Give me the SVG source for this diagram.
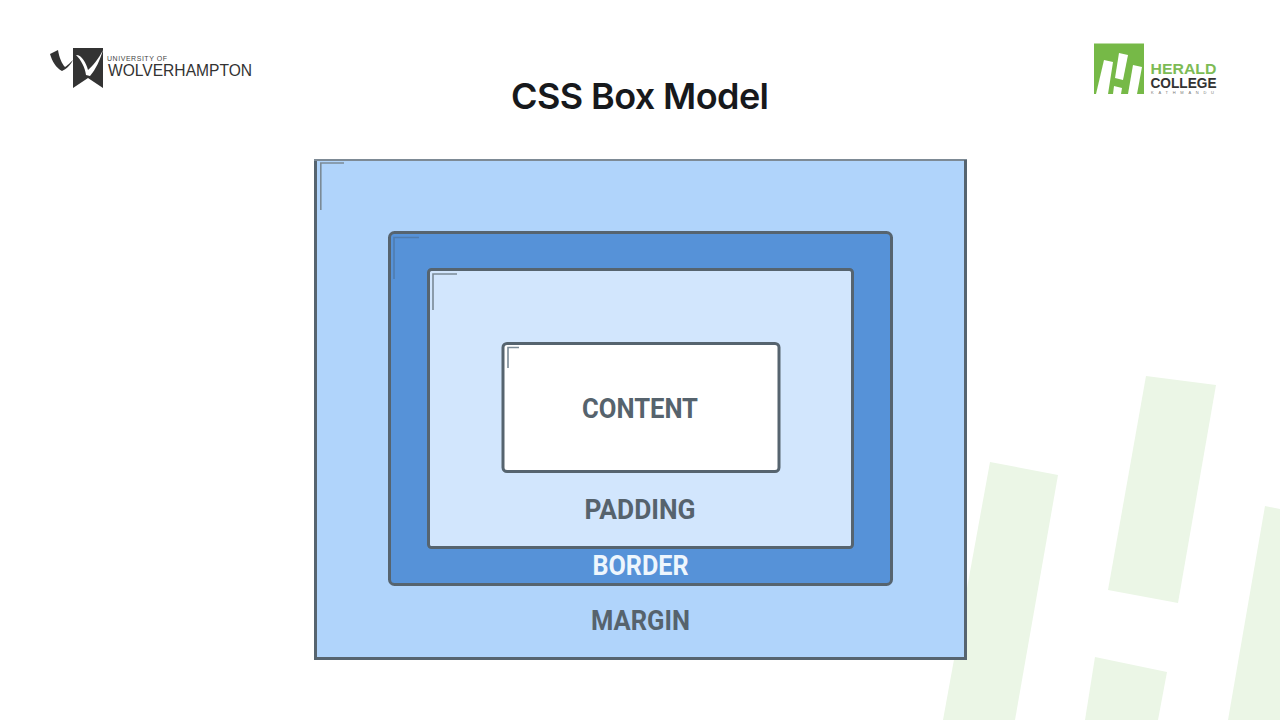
<svg xmlns="http://www.w3.org/2000/svg" width="1280" height="720" viewBox="0 0 1280 720">
<style>
.box{stroke:#56646f;stroke-width:3}
.tick{fill:none;stroke:#7b8a96;stroke-width:1.6}
.lbl{font-family:"Roboto","Liberation Sans",sans-serif;font-weight:700;font-size:28px;text-anchor:middle;fill:#56636d}
.bar{fill:#ebf6e6}
.logo{font-family:"Liberation Sans",sans-serif}
</style>
<rect width="1280" height="720" fill="#ffffff"/>
<g id="watermark">
<polygon class="bar" points="990,462 1058,475 1015,720 943,720"/>
<polygon class="bar" points="1146,376 1216,385 1178,603 1108,590"/>
<polygon class="bar" points="1095,657 1167,672 1158,720 1085,720"/>
<polygon class="bar" points="1265,506 1280,509 1280,720 1228,720"/>
</g>
<g id="logo-wolverhampton">
<path d="M50 54 L58 50 C59 57 62 64 65 67 C67 66 71 62 73 60 C71 64 67 69 62 71 C56 68 52 61 50 54Z" fill="#333"/>
<path d="M73 48 H103 V88 L88 78 L73 88Z" fill="#333"/>
<path d="M76 55 C82 55 86 63 88 70 C93 66 99 58 103 50 C100 60 96 69 90 76 L86 75 C85 67 81 60 76 55Z" fill="#fff"/>
<text class="logo" x="107" y="61" font-size="7" textLength="60" lengthAdjust="spacing" fill="#444">UNIVERSITY OF</text>
<text class="logo" x="108" y="75.500" font-size="17" textLength="144" lengthAdjust="spacingAndGlyphs" fill="#333">WOLVERHAMPTON</text>
</g>
<g id="logo-herald">
<rect x="1094" y="43.500" width="50" height="50.500" fill="#76b947"/>
<g fill="#fff">
<polygon points="1104,60 1113,62 1108,94 1096,94"/>
<polygon points="1119,53 1128,55 1123,80 1115,78"/>
<polygon points="1114,86 1122,88 1121,94 1113,94"/>
<polygon points="1133,65 1142,67 1137,94 1128,94"/>
</g>
<text class="logo" x="1150.500" y="74" font-weight="700" font-size="14" textLength="66" lengthAdjust="spacingAndGlyphs" fill="#7dbb55">HERALD</text>
<text class="logo" x="1150.500" y="87.500" font-weight="700" font-size="14" textLength="66" lengthAdjust="spacingAndGlyphs" fill="#333">COLLEGE</text>
<text class="logo" x="1151" y="94" font-size="4" textLength="63" lengthAdjust="spacing" fill="#777">KATHMANDU</text>
</g>
<text id="title" x="640" y="109" text-anchor="middle" font-family="Inter,Roboto,sans-serif" font-weight="600" font-size="36" textLength="258" lengthAdjust="spacing" fill="#17191c">CSS Box Model</text>
<g id="margin">
<rect x="315.500" y="160" width="650" height="498" rx="2" fill="#b0d4fb"/>
<path d="M315.500 658.500 V160" fill="none" stroke="#56646f" stroke-width="3"/>
<path d="M314 160 H967" fill="none" stroke="#7d8a95" stroke-width="2"/>
<path d="M965.500 160 V658.500 H314" fill="none" stroke="#56646f" stroke-width="3"/>
<path class="tick" d="M320.800 210 V163 H344"/>
<text class="lbl" x="640.500" y="630" textLength="99" lengthAdjust="spacingAndGlyphs">MARGIN</text>
</g>
<g id="border">
<rect class="box" x="389.500" y="232.500" width="502" height="352" rx="5" fill="#5692d8"/>
<path class="tick" style="stroke:#4f7cae" d="M394 279 V237.500 H419"/>
<text class="lbl" x="640.500" y="575" textLength="96" lengthAdjust="spacingAndGlyphs" style="fill:#eef6fd">BORDER</text>
</g>
<g id="padding">
<rect class="box" x="428.500" y="269.500" width="424" height="278" rx="3" fill="#d2e6fd"/>
<path class="tick" d="M433 310 V274 H457"/>
<text class="lbl" x="640" y="519" textLength="111" lengthAdjust="spacingAndGlyphs">PADDING</text>
</g>
<g id="content">
<rect class="box" x="503" y="343.500" width="276" height="128" rx="4" fill="#ffffff"/>
<path class="tick" d="M508 368 V347.500 H519"/>
<text class="lbl" x="640" y="418" textLength="116" lengthAdjust="spacingAndGlyphs">CONTENT</text>
</g>
</svg>
